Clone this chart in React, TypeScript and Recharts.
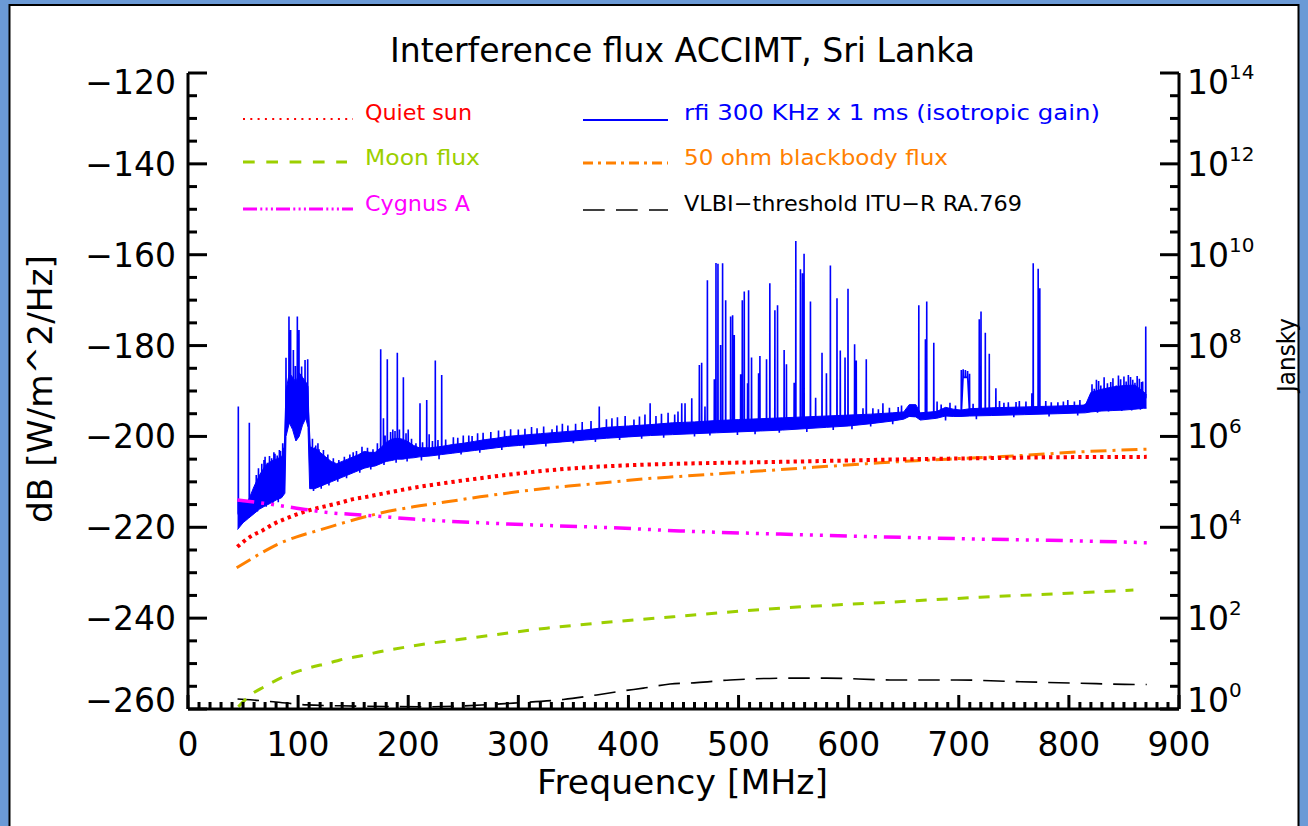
import React from "react";
import { ComposedChart, Line, Area, XAxis, YAxis } from "recharts";

const W = 1308;
const H = 826;
const FONT = '"DejaVu Sans", Verdana, sans-serif';

// ---------- axis ticks ----------
const xMajorTicks = [0, 100, 200, 300, 400, 500, 600, 700, 800, 900];
const xMinorStep = 10;
const dbMajorTicks = [-260, -240, -220, -200, -180, -160, -140, -120];
const dbMinorStep = 5;
const jyMajorExponents = [0, 2, 4, 6, 8, 10, 12, 14];

const xTicks: number[] = [];
for (let v = xMajorTicks[0]; v <= xMajorTicks[xMajorTicks.length - 1]; v += xMinorStep) xTicks.push(v);
const dbTicks: number[] = [];
for (let v = dbMajorTicks[0]; v <= dbMajorTicks[dbMajorTicks.length - 1]; v += dbMinorStep) dbTicks.push(v);
const jyTicks: number[] = [];
for (let k = 0; k <= 28; k++) jyTicks.push(Math.pow(10, k / 2));

// ---------- reference flux curves: [MHz, dB W/m^2/Hz] ----------
const quietSun: [number, number][] = [
  [44.8, -224.3], [56.3, -222.1], [68.4, -220.6], [77.5, -219.3], [89.6, -218.0],
  [101.7, -216.9], [113.8, -216.0], [126, -215.3], [138, -214.6], [150.1, -213.8],
  [162.3, -213.3], [174.4, -212.7], [189.5, -212.0], [204.6, -211.3], [235, -210.2],
  [265.2, -209.2], [295.5, -208.3], [325.8, -207.5], [356, -206.9], [386.3, -206.5],
  [416.6, -206.2], [446.9, -206.0], [537.7, -205.6], [598.3, -205.3], [658.8, -205.0],
  [719.3, -204.8], [779.9, -204.6], [870.7, -204.5],
];

const moonFlux: [number, number][] = [
  [45.7, -259.5], [56.3, -257.0], [68.4, -255.2], [74.5, -254.4], [89.6, -252.6],
  [107.8, -251.1], [129, -249.8], [138, -249.2], [159.2, -248.2], [168.3, -247.7],
  [204.6, -246.1], [265.2, -244.1], [325.8, -242.2], [386.3, -240.8], [440.8, -239.7],
  [537.7, -237.8], [628.5, -236.6], [719.3, -235.4], [810.2, -234.4], [858.6, -233.8],
];

const cygnusA: [number, number][] = [
  [44.8, -214.0], [68.4, -214.7], [98.7, -215.8], [129, -216.8], [159.2, -217.3],
  [204.6, -218.2], [265.2, -219.0], [325.8, -219.6], [386.3, -220.1], [446.9, -220.8],
  [537.7, -221.5], [628.5, -222.1], [719.3, -222.6], [810.2, -223.0], [870.7, -223.4],
];

const blackbody50: [number, number][] = [
  [44.2, -228.9], [53.3, -227.6], [68.4, -225.4], [83.6, -223.5], [98.7, -222.1],
  [113.8, -221.0], [129, -219.9], [144.1, -218.8], [174.4, -216.9], [204.6, -215.5],
  [235, -214.4], [265.2, -213.3], [295.5, -212.3], [325.8, -211.4], [356, -210.7],
  [386.3, -210.0], [416.6, -209.3], [446.9, -208.8], [507.4, -207.8], [568, -206.8],
  [628.5, -205.8], [689, -205.0], [749.6, -204.3], [810.2, -203.4], [870.7, -202.8],
];

const vlbiThreshold: [number, number][] = [
  [45, -257.8], [51.8, -257.9], [77.5, -258.4], [107.8, -259.1], [138, -259.3],
  [219.8, -259.5], [295.5, -258.7], [340.9, -257.9], [371.2, -256.9], [395.4, -256.0],
  [413.5, -255.4], [437.8, -254.5], [462, -254.2], [492.3, -253.6], [549.8, -253.2],
  [580.1, -253.2], [637.6, -253.6], [698.2, -253.6], [755.7, -254.0], [807.2, -254.3],
  [861.7, -254.6], [870.7, -254.6],
];

// ---------- measured interference spectrum ----------
// noise floor envelope: [MHz, low dB, high dB]
const rfiFloor: [number, number, number][] = [
  [45, -220.5, -214], [50, -219, -214.5], [55, -218, -214], [60, -217, -211],
  [65, -216, -208.5], [70, -215.3, -206.5], [75, -214.7, -205.5], [80, -214, -205],
  [85, -213.5, -204.5], [88, -212.5, -203], [89, -200, -190], [92, -197, -186],
  [95, -198.5, -187], [98, -201, -188], [101, -200, -186], [104, -197.5, -187],
  [107, -196, -188], [109, -198, -189], [110.5, -211.5, -203], [115, -211.5, -202.5],
  [120, -211, -203.5], [125, -210.5, -204.5], [130, -210, -205.5], [135, -209.5, -206],
  [140, -209, -205.5], [145, -208.5, -205], [150, -208, -204.5], [155, -207.5, -204],
  [160, -207, -203.3], [165, -206.7, -203.5], [170, -206.5, -203.5], [175, -206, -202.5],
  [180, -205.5, -201.3], [185, -205.3, -200.6], [190, -205, -200.4], [195, -205, -200.6],
  [200, -204.8, -201.2], [205, -204.7, -202], [210, -204.5, -202.5], [220, -204.3, -202.5],
  [230, -204, -202.2], [240, -203.7, -201.8], [250, -203.4, -201.5], [260, -203.1, -201.1],
  [270, -202.8, -200.7], [280, -202.5, -200.4], [290, -202.2, -200], [300, -202, -199.8],
  [320, -201.6, -199.4], [340, -201.2, -199], [360, -200.8, -198.6], [380, -200.4, -198],
  [400, -200.1, -197.7], [420, -199.8, -197.4], [440, -199.6, -197], [460, -199.4, -196.8],
  [480, -199.2, -196.5], [500, -199, -196.3], [520, -198.8, -196.1], [540, -198.6, -195.9],
  [560, -198.3, -195.7], [580, -198, -195.5], [600, -197.7, -195.3], [620, -197.2, -195.1],
  [640, -196.6, -194.8], [650, -196.2, -194.6], [655, -195.6, -193], [661, -195.7, -193],
  [665, -196.4, -194.8], [680, -196, -194.5], [688, -195.5, -193.6], [695, -195.6, -194],
  [702, -195.6, -194.2], [710, -195.5, -193.9], [730, -195.4, -193.7], [760, -195.2, -193.5],
  [790, -195, -193.3], [815, -194.8, -193.1], [820, -194.6, -190.3], [830, -194.4, -189.6],
  [840, -194.3, -189.1], [850, -194.2, -188.8], [860, -194, -188.7], [868, -193.8, -190.2],
  [870.5, -193.8, -190.8],
];

// narrow carriers and noise excursions: [MHz, floor dB, extreme dB]
const rfiCarriers: [number, number, number][] = [
  [45.7, -217, -193.4], [55.7, -216, -197.0], [70, -210, -204.5], [78, -209, -203.5],
  [83, -208, -203], [86, -208, -201.5], [89.0, -193, -182.7], [91.7, -192, -173.6],
  [93.2, -192, -176.6], [95.7, -193, -181.0], [97.5, -194, -184.5], [99.3, -193, -173.6],
  [100.8, -192, -176.6], [103.2, -192, -184.6], [106.3, -192, -183.2], [108.7, -193, -183.0],
  [113, -207, -200.5], [118, -207, -201.5], [123, -207, -203], [150, -206, -203.5],
  [158, -205, -202.3], [175.0, -204, -180.8], [177.5, -203, -196], [181.0, -203, -183.0],
  [186, -203, -198.5], [190.1, -203, -181.6], [195.6, -203, -187.0], [200, -203, -198.5],
  [210.7, -203.5, -192.7], [216.8, -203.5, -192.0], [219, -203.5, -199.5], [224.6, -203, -183.3],
  [230.4, -203, -186.5], [241, -202.5, -200.2], [255, -202, -199.8], [263, -202, -199.3],
  [287.5, -201, -198.7], [300, -200.7, -198.5], [317, -200.3, -198.2], [330.6, -200, -198.4],
  [345, -199.8, -197.6], [373.5, -199, -193.4], [380, -199, -196.2], [385, -198.8, -196],
  [397, -198.5, -195.5], [405, -198.5, -196.3], [419.7, -198.3, -192.7], [425, -198.2, -195.5],
  [442, -198, -195.2], [448.4, -198, -192.7], [451.4, -198, -192.7], [457.5, -198, -191.6],
  [464.4, -197.8, -184.3], [466.5, -197.8, -183.8], [469.5, -197.8, -193.4], [471.7, -197.8, -165.6],
  [478, -197.6, -187.4], [479.5, -197.6, -161.8], [481.3, -197.6, -162.0], [483.7, -197.6, -179.9],
  [485.5, -197.5, -161.9], [488.3, -197.5, -170.0], [492.8, -197.5, -173.6], [494.6, -197.5, -173.3],
  [496.1, -197.5, -177.7], [501.9, -197.4, -186.3], [503.4, -197.4, -170.0], [505.2, -197.4, -168.1],
  [508.2, -197.3, -188.3], [509.1, -197.3, -167.8], [511.8, -197.3, -182.6], [518.2, -197.2, -186.1],
  [519.4, -197.2, -182.3], [525.4, -197.1, -183.0], [528.4, -197.1, -166.3], [533.0, -197, -172.2],
  [535.4, -197, -171.1], [541.4, -196.9, -181.0], [543.5, -196.9, -184.1], [550.5, -196.8, -188.2],
  [552.0, -196.8, -157.0], [556.2, -196.7, -163.2], [558.0, -196.7, -164.1], [559.5, -196.7, -159.8],
  [565.3, -196.6, -170.3], [570.0, -196.5, -191.5], [575.8, -196.5, -181.6], [579.8, -196.4, -186.1],
  [583.4, -196.4, -162.4], [589.4, -196.3, -169.6], [592.4, -196.3, -181.1], [596.7, -196.2, -182.6],
  [599.4, -196.2, -167.5], [605.4, -196.1, -179.7], [606.9, -196.1, -183.3], [613.0, -196, -193.8],
  [616.0, -196, -183.0], [631.1, -195.8, -192.7], [663.7, -195.5, -171.1], [669.7, -195.3, -178.6],
  [670.9, -195.3, -170.3], [677.3, -195.2, -179.4], [680.3, -195.2, -192.3], [702.3, -194.5, -185.4],
  [704.0, -187, -185.2], [706.0, -187, -185.4], [708.0, -187, -185.6], [709.8, -194.5, -186.2],
  [718.6, -194.3, -174.2], [720.2, -194.3, -172.5], [724.1, -194.3, -177.2], [727.7, -194.2, -181.8],
  [733.7, -194.2, -189.4], [745, -194.1, -192.5], [766.4, -194, -190.5], [767.6, -194, -161.9],
  [772.1, -194, -163.1], [773.6, -194, -167.4], [790, -193.9, -192.5], [805, -193.8, -192.3],
  [825, -192, -187.5], [832, -192, -187], [838, -192, -188], [845, -191.5, -186.6],
  [850, -191.5, -186.8], [854, -191.5, -186.5], [858, -191.5, -187.5], [862, -191.5, -186.7],
  [866, -191.5, -188], [869.8, -191.5, -175.8],
];

// floor fluctuations (up and down) that give the noisy band its ragged edges
const rfiJitter: [number, number, number][] = [
  [62, -212, -208.5], [63, -212, -216.5], [64, -212, -207], [67, -211, -206], [69, -211, -205.2],
  [71, -210, -215.5], [72, -210, -205.8], [74, -210, -204.3], [76, -210, -204.8], [77, -210, -215],
  [79, -209, -203.8], [81, -209, -204.2], [82, -209, -214.5], [84, -208, -203.2], [87, -207, -202.5],
  [112, -207, -202.3], [114, -207, -212], [116, -207, -202], [119, -207, -202.8], [121, -207, -211.5],
  [127, -207, -204], [128, -207, -210.8], [132, -207, -204.8], [136, -207, -210], [137, -207, -205.2],
  [142, -206.5, -204.5], [144, -206.5, -209.2], [147, -206, -204], [153, -205.5, -203.2],
  [156, -205.5, -208], [163, -205, -202.5], [166, -205, -207.3], [168, -205, -202.8],
  [172, -204, -201.5], [178, -203, -206.3], [179, -203, -199.8], [184, -203, -199], [188, -203, -198.8],
  [189, -203, -205.8], [192, -203, -198.5], [198, -203, -199.3], [199, -203, -205.5], [203, -203, -200.5],
  [207, -203, -201.5], [212, -203, -205.3], [213, -203, -201.3], [222, -203, -201], [227, -203, -200.8],
  [228, -203, -205], [234, -203, -200.7], [245, -202, -200.3], [248, -202, -204], [250, -202, -199.8],
  [258, -202, -199.9], [265, -201.5, -203.6], [268, -201.5, -199.2], [275, -201.5, -199],
  [282, -201, -198.7], [285, -201, -203], [293, -201, -198.4], [305, -200.5, -202.6], [306, -200.5, -198.3],
  [312, -200.5, -197.9], [323, -200, -197.8], [325, -200, -202.2], [335, -200, -197.6],
  [340, -199.8, -197.2], [350, -199.5, -201.5], [352, -199.5, -197.2], [358, -199.5, -196.8],
  [366, -199.2, -196.6], [370, -199.2, -201.2], [390, -198.8, -195.8], [392, -198.8, -200.8],
  [410, -198.5, -195.6], [412, -198.5, -200.5], [415, -198.5, -195.2], [430, -198.3, -195],
  [432, -198.2, -200.3], [436, -198.2, -194.8], [445, -198, -194.5], [460, -197.8, -200],
  [474, -197.7, -199.8], [499, -197.4, -199.7], [515, -197.2, -199.5], [537, -197, -199.2],
  [562, -196.6, -199], [586, -196.4, -198.6], [603, -196.2, -198.4], [620, -195.9, -197.8],
  [622, -195.9, -193.8], [627, -195.9, -194], [637, -195.6, -193.7], [640, -195.6, -197.3],
  [645, -195.5, -193.5], [648, -195.5, -193.2], [684, -195, -193], [688, -195, -196.5],
  [692, -194.8, -192.6], [697, -194.8, -193.2], [713, -194.5, -192.8], [716, -194.5, -196.2],
  [737, -194.2, -192.2], [741, -194.2, -192.6], [750, -194.1, -195.8], [752, -194.1, -192.4],
  [755, -194.1, -192.2], [761, -194, -192.3], [779, -193.9, -192.2], [782, -193.9, -195.6],
  [784, -193.9, -192.5], [795, -193.8, -192.3], [799, -193.8, -192], [808, -193.8, -195.4],
  [810, -193.8, -192], [821, -192, -188.5], [823, -192, -189.5], [826, -192, -194.8],
  [827, -192, -187.8], [829, -192, -188.8], [835, -192, -188.3], [836, -192, -194.5],
  [840, -191.5, -187.2], [843, -191.5, -188.8], [847, -191.5, -187.4], [848, -191.5, -194.4],
  [852, -191.5, -187.9], [856, -191.5, -186.9], [857, -191.5, -194.3], [860, -191.5, -188.2],
  [864, -191.5, -187.3], [865, -191.5, -194.1], [867, -191.5, -187.9],
];

// ---------- series tables ----------
const toRows = (pts: [number, number][]) => pts.map(([f, v]) => ({ f, v }));
const floorRows = rfiFloor.map(([f, lo, hi]) => ({ f, range: [lo, hi] }));
const carrierRows: { f: number; v: number }[] = [];
[...rfiCarriers, ...rfiJitter]
  .sort((a, b) => a[0] - b[0])
  .forEach(([f, base, peak]) => {
    carrierRows.push({ f: f - 0.12, v: base });
    carrierRows.push({ f, v: peak });
    carrierRows.push({ f: f + 0.12, v: base });
  });

const COLORS = {
  sun: "#ff0000",
  moon: "#9ccf00",
  cyg: "#ff00ff",
  rfi: "#0000ff",
  bb: "#ff8000",
  vlbi: "#000000",
};

// ---------- tick renderers (ticks point into the plot) ----------
const PLOT_TOP = 73;
const PLOT_BOTTOM = 709;

const BottomTick = (props: any) => {
  const { x, y, payload } = props;
  const v = payload.value;
  const major = v % 100 === 0;
  return (
    <g>
      <line x1={x} y1={y} x2={x} y2={y - (major ? 14 : 7)} stroke="#000" strokeWidth={3} />
      {major && (
        <text x={x} y={y + 47} textAnchor="middle" fontFamily={FONT} fontSize={33} fill="#000">
          {v}
        </text>
      )}
    </g>
  );
};

const TopTick = (props: any) => {
  const { x, y, payload } = props;
  const major = payload.value % 100 === 0;
  return <line x1={x} y1={y} x2={x} y2={y + (major ? 14 : 7)} stroke="#000" strokeWidth={3} />;
};

const clampLabel = (y: number) => Math.min(Math.max(y, PLOT_TOP + 9), PLOT_BOTTOM - 9);

const LeftTick = (props: any) => {
  const { x, y, payload } = props;
  const v = payload.value;
  const major = dbMajorTicks.includes(v);
  return (
    <g>
      <line x1={x} y1={y} x2={x + (major ? 19 : 9)} y2={y} stroke="#000" strokeWidth={3} />
      {major && (
        <text x={x - 12} y={clampLabel(y) + 12} textAnchor="end" fontFamily={FONT} fontSize={33} fill="#000">
          {"\u2212" + Math.abs(v)}
        </text>
      )}
    </g>
  );
};

const RightTick = (props: any) => {
  const { x, y, payload } = props;
  const e = Math.log10(payload.value);
  const exp = Math.round(e);
  const major = Math.abs(e - exp) < 1e-6 && jyMajorExponents.includes(exp);
  const cy = clampLabel(y);
  return (
    <g>
      <line x1={x} y1={y} x2={x - (major ? 19 : 9)} y2={y} stroke="#000" strokeWidth={3} />
      {major && (
        <text x={x + 8} y={cy + 12} fontFamily={FONT} fontSize={33} fill="#000">
          10
          <tspan fontSize={20} dy={-15}>{exp}</tspan>
        </text>
      )}
    </g>
  );
};

// ---------- legend ----------
const legendItems = [
  { label: "Quiet sun", color: COLORS.sun, dash: "2 5.3", width: 2, x1: 243, x2: 353, y: 119, tx: 365, ty: 120, tl: 107 },
  { label: "Moon flux", color: COLORS.moon, dash: "11.7 11.6", width: 3, x1: 243, x2: 347, y: 162, tx: 365, ty: 165, tl: 115 },
  { label: "Cygnus A", color: COLORS.cyg, dash: "14 3.3 2 3.3 2 3.3 2 3.1", width: 3, x1: 243, x2: 353, y: 209, tx: 365, ty: 211, tl: 105 },
  { label: "rfi 300 KHz x 1 ms (isotropic gain)", color: COLORS.rfi, dash: "", width: 2, x1: 583, x2: 668, y: 120, tx: 684, ty: 120, tl: 416 },
  { label: "50 ohm blackbody flux", color: COLORS.bb, dash: "10 5 3 5", width: 3, x1: 583, x2: 668, y: 163, tx: 684, ty: 165, tl: 264 },
  { label: "VLBI\u2212threshold ITU\u2212R RA.769", color: "#000000", dash: "21.7 11.3", width: 1.6, x1: 583, x2: 668, y: 210, tx: 684, ty: 211, tl: 338 },
];

const seriesProps = {
  xAxisId: "bottom",
  yAxisId: "db",
  dot: false,
  activeDot: false,
  isAnimationActive: false,
} as const;

export default function App() {
  return (
    <div style={{ position: "absolute", left: 0, top: 0, width: W, height: H, background: "#ffffff", overflow: "hidden" }}>
      <ComposedChart width={W} height={H} margin={{ top: 73, right: 0, bottom: 0, left: 0 }}>
        <XAxis
          xAxisId="bottom"
          type="number"
          dataKey="f"
          domain={[0, 900]}
          ticks={xTicks}
          interval={0}
          height={117}
          tickSize={0}
          tickMargin={0}
          tickLine={false}
          axisLine={{ stroke: "#000", strokeWidth: 3 }}
          tick={BottomTick}
          allowDataOverflow
        />
        <XAxis
          xAxisId="top"
          orientation="top"
          type="number"
          dataKey="f"
          domain={[0, 900]}
          ticks={xTicks}
          interval={0}
          height={0}
          tickSize={0}
          tickMargin={0}
          tickLine={false}
          axisLine={{ stroke: "#000", strokeWidth: 3 }}
          tick={TopTick}
          allowDataOverflow
        />
        <YAxis
          yAxisId="db"
          type="number"
          domain={[-260, -120]}
          ticks={dbTicks}
          interval={0}
          width={188}
          tickSize={0}
          tickMargin={0}
          tickLine={false}
          axisLine={{ stroke: "#000", strokeWidth: 3 }}
          tick={LeftTick}
          allowDataOverflow
        />
        <YAxis
          yAxisId="jy"
          orientation="right"
          type="number"
          scale="log"
          domain={[1, 1e14]}
          ticks={jyTicks}
          interval={0}
          width={129}
          tickSize={0}
          tickMargin={0}
          tickLine={false}
          axisLine={{ stroke: "#000", strokeWidth: 3 }}
          tick={RightTick}
          allowDataOverflow
        />

        <Area
          {...seriesProps}
          data={floorRows}
          dataKey="range"
          type="linear"
          stroke={COLORS.rfi}
          strokeWidth={1}
          fill={COLORS.rfi}
          fillOpacity={1}
        />
        <Line {...seriesProps} data={carrierRows} dataKey="v" type="linear" stroke={COLORS.rfi} strokeWidth={1.6} />
        <Line
          {...seriesProps}
          data={toRows(vlbiThreshold)}
          dataKey="v"
          type="monotone"
          stroke={COLORS.vlbi}
          strokeWidth={1.6}
          strokeDasharray="21.5 11"
        />
        <Line
          {...seriesProps}
          data={toRows(moonFlux)}
          dataKey="v"
          type="monotone"
          stroke={COLORS.moon}
          strokeWidth={3}
          strokeDasharray="11 10"
        />
        <Line
          {...seriesProps}
          data={toRows(blackbody50)}
          dataKey="v"
          type="monotone"
          stroke={COLORS.bb}
          strokeWidth={3}
          strokeDasharray="16 6 3 6"
        />
        <Line
          {...seriesProps}
          data={toRows(quietSun)}
          dataKey="v"
          type="monotone"
          stroke={COLORS.sun}
          strokeWidth={4}
          strokeDasharray="3.3 4"
        />
        <Line
          {...seriesProps}
          data={toRows(cygnusA)}
          dataKey="v"
          type="monotone"
          stroke={COLORS.cyg}
          strokeWidth={3.5}
          strokeDasharray="17 7 3 7 3 7 3 7"
        />
      </ComposedChart>

      <svg width={W} height={H} style={{ position: "absolute", left: 0, top: 0, pointerEvents: "none" }}>
        {/* window frame */}
        <rect x={0} y={0} width={W} height={4} fill="#6b9ad6" />
        <rect x={0} y={0} width={9} height={H} fill="#6b9ad6" />
        <rect x={W - 9} y={0} width={9} height={H} fill="#6b9ad6" />
        <line x1={9} y1={5} x2={W - 9} y2={5} stroke="#000" strokeWidth={2} />
        <line x1={9.5} y1={4} x2={9.5} y2={H} stroke="#000" strokeWidth={2} />
        <line x1={W - 9.5} y1={4} x2={W - 9.5} y2={H} stroke="#000" strokeWidth={2} />

        {/* title and axis titles */}
        <text x={390} y={62} fontFamily={FONT} fontSize={33} fill="#000" textLength={585} lengthAdjust="spacingAndGlyphs">
          Interference flux ACCIMT, Sri Lanka
        </text>
        <text x={537} y={794} fontFamily={FONT} fontSize={33} fill="#000" textLength={291} lengthAdjust="spacingAndGlyphs">
          Frequency [MHz]
        </text>
        <text
          transform="translate(52 523) rotate(-90)"
          fontFamily={FONT}
          fontSize={33}
          fill="#000"
          textLength={268}
          lengthAdjust="spacingAndGlyphs"
        >
          dB [W/m^2/Hz]
        </text>
        <text
          transform="translate(1295 392) rotate(-90)"
          fontFamily={FONT}
          fontSize={25}
          fill="#000"
          textLength={74}
          lengthAdjust="spacingAndGlyphs"
        >
          Jansky
        </text>

        {/* legend */}
        {legendItems.map((it) => (
          <g key={it.label}>
            <line
              x1={it.x1}
              y1={it.y}
              x2={it.x2}
              y2={it.y}
              stroke={it.color}
              strokeWidth={it.width}
              strokeDasharray={it.dash || undefined}
            />
            <text
              x={it.tx}
              y={it.ty}
              fontFamily={FONT}
              fontSize={22}
              fill={it.color}
              textLength={it.tl}
              lengthAdjust="spacingAndGlyphs"
            >
              {it.label}
            </text>
          </g>
        ))}
      </svg>
    </div>
  );
}
